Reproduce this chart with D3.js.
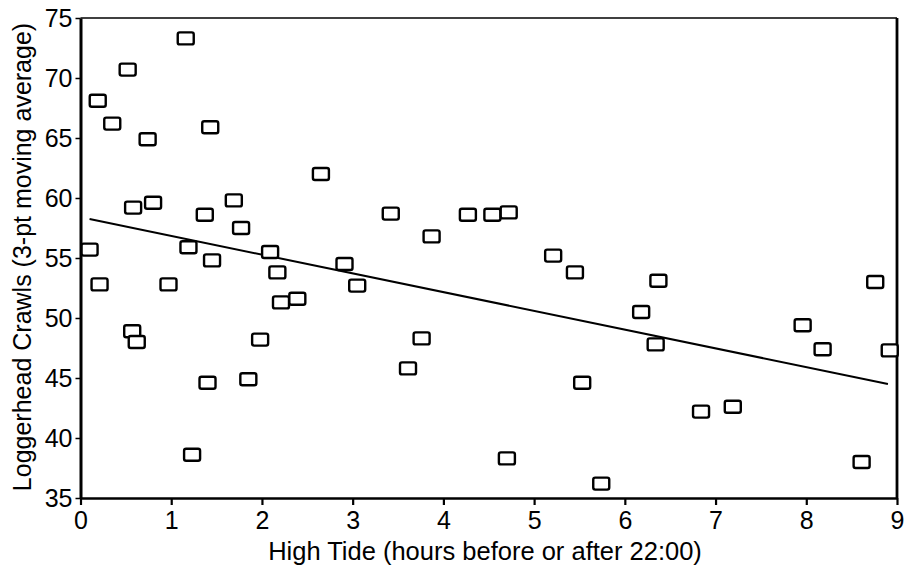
<!DOCTYPE html>
<html>
<head>
<meta charset="utf-8">
<script src="https://cdn.jsdelivr.net/npm/d3@7"></script>
<style>
  body { margin: 0; background: #fff; }
  svg text { font-family: "Liberation Sans", Arial, sans-serif; fill: #000; }
</style>
</head>
<body>
<svg id="chart" width="905" height="577"></svg>
<script>
"use strict";

// hours from high tide vs crawls (3-pt moving average)
const tide_hours = [0.1, 0.19, 0.21, 0.35, 0.52, 0.58, 0.8, 0.57, 0.62, 0.74,
  0.97, 1.16, 1.19, 1.23, 1.43, 1.37, 1.45, 1.4, 1.69, 1.77,
  1.85, 2.09, 2.17, 2.21, 1.98, 2.39, 2.65, 2.91, 3.05, 3.42,
  3.76, 3.61, 3.87, 4.27, 4.54, 4.72, 4.7, 5.53, 5.21, 5.45,
  5.74, 6.18, 6.37, 6.34, 6.84, 7.19, 7.96, 8.18, 8.61, 8.76, 8.92];
const crawls = [55.7, 68.1, 52.8, 66.2, 70.7, 59.2, 59.6, 48.9, 48.0, 64.9,
  52.8, 73.3, 55.9, 38.6, 65.9, 58.6, 54.8, 44.6, 59.8, 57.5,
  44.9, 55.5, 53.8, 51.3, 48.2, 51.6, 62.0, 54.5, 52.7, 58.7,
  48.3, 45.8, 56.8, 58.6, 58.6, 58.8, 38.3, 44.6, 55.2, 53.8,
  36.2, 50.5, 53.1, 47.8, 42.2, 42.6, 49.4, 47.4, 38.0, 53.0, 47.3];
// fitted trend line ends
const trend_x = [0.1, 8.9];
const trend_y = [58.25, 44.5];

const x_ticks = [0, 1, 2, 3, 4, 5, 6, 7, 8, 9];
const y_ticks = [35, 40, 45, 50, 55, 60, 65, 70, 75];

const svg = d3.select("#chart");
const plot_l = 80.5, plot_r = 897, plot_t = 18, plot_b = 498;

const x = d3.scaleLinear().domain([0, 9]).range([plot_l, plot_r]);
const y = d3.scaleLinear().domain([35, 75]).range([plot_b, plot_t]);

// frame (top thin, right heavier)
svg.append("line")
  .attr("x1", plot_l).attr("x2", plot_r).attr("y1", plot_t).attr("y2", plot_t)
  .attr("stroke", "#000").attr("stroke-width", 1.6);
svg.append("line")
  .attr("x1", plot_r).attr("x2", plot_r).attr("y1", plot_t).attr("y2", plot_b)
  .attr("stroke", "#000").attr("stroke-width", 2.8);

let xAxis = svg.append("g")
  .attr("transform", "translate(0," + plot_b + ")")
  .call(d3.axisBottom(x).tickValues(x_ticks).tickSize(7).tickSizeOuter(0).tickPadding(6));
xAxis.select(".domain").attr("stroke-width", 2.5);
xAxis.selectAll(".tick line").attr("stroke-width", 2.2);
xAxis.selectAll("text").attr("font-size", 25).attr("font-family", "Liberation Sans, Arial, sans-serif");

let yAxis = svg.append("g")
  .attr("transform", "translate(" + plot_l + ",0)")
  .call(d3.axisLeft(y).tickValues(y_ticks).tickSize(5).tickSizeOuter(0).tickPadding(3));
yAxis.select(".domain").attr("stroke-width", 3);
yAxis.selectAll(".tick line").attr("stroke-width", 1.5);
yAxis.selectAll("text").attr("font-size", 25).attr("font-family", "Liberation Sans, Arial, sans-serif");

// trend line
svg.append("line")
  .attr("x1", x(trend_x[0])).attr("y1", y(trend_y[0]))
  .attr("x2", x(trend_x[1])).attr("y2", y(trend_y[1]))
  .attr("stroke", "#000").attr("stroke-width", 2);

// square markers
let pts = d3.range(tide_hours.length);
svg.append("g").selectAll("rect")
  .data(pts)
  .join("rect")
  .attr("x", i => x(tide_hours[i]) - 8)
  .attr("y", i => y(crawls[i]) - 6)
  .attr("width", 16)
  .attr("height", 12)
  .attr("rx", 2)
  .attr("fill", "#fff")
  .attr("stroke", "#000")
  .attr("stroke-width", 2.4);

// axis titles
svg.append("text")
  .attr("x", 485)
  .attr("y", 560)
  .attr("text-anchor", "middle")
  .attr("font-size", 25.5)
  .text("High Tide (hours before or after 22:00)");

svg.append("text")
  .attr("transform", "translate(31,257) rotate(-90)")
  .attr("text-anchor", "middle")
  .attr("font-size", 25)
  .text("Loggerhead Crawls (3-pt moving average)");
</script>
</body>
</html>
